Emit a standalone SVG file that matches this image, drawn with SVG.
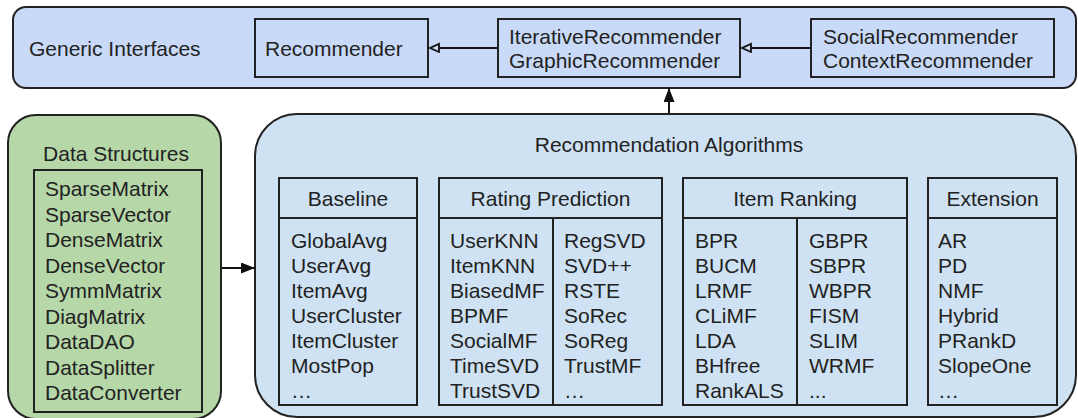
<svg xmlns="http://www.w3.org/2000/svg" width="1078" height="418" viewBox="0 0 1078 418">
  <style>
    text { font-family: "Liberation Sans", Arial, sans-serif; font-size: 21px; fill: #222; }
    .mid { text-anchor: middle; }
    .box { fill: none; stroke: #222; stroke-width: 2; }
    .conn { stroke: #111; stroke-width: 2; fill: none; }
  </style>
  <defs>
    <marker id="hollow" markerUnits="userSpaceOnUse" markerWidth="14" markerHeight="12" refX="10" refY="5" orient="auto">
      <path d="M1,1 L10,5 L1,9 z" fill="#c9daf8" stroke="#111" stroke-width="1.8"/>
    </marker>
    <marker id="solid" markerUnits="userSpaceOnUse" markerWidth="16" markerHeight="12" refX="14" refY="5.5" orient="auto">
      <path d="M0,0 L14,5.5 L0,11 z" fill="#111"/>
    </marker>
  </defs>

  <rect width="1078" height="418" fill="#ffffff"/>

  <g id="generic-interfaces">
    <rect x="13" y="7" width="1063" height="81" rx="13" ry="13" fill="#c9daf8" stroke="#222" stroke-width="2"/>
    <text x="29" y="56">Generic Interfaces</text>
  </g>

  <g id="recommender">
    <rect class="box" x="255" y="19" width="173" height="58"/>
    <text x="265" y="56">Recommender</text>
  </g>

  <g id="iterative">
    <rect class="box" x="498" y="19" width="242" height="58"/>
    <text x="509" y="44">IterativeRecommender</text>
    <text x="509" y="68">GraphicRecommender</text>
  </g>

  <g id="social">
    <rect class="box" x="811" y="19" width="243" height="58"/>
    <text x="823" y="44">SocialRecommender</text>
    <text x="823" y="68">ContextRecommender</text>
  </g>

  <g id="data-structures">
    <rect x="8" y="115" width="213" height="304" rx="28" ry="28" fill="#b6d7a8" stroke="#222" stroke-width="2"/>
    <text class="mid" x="116" y="161">Data Structures</text>
    <rect class="box" x="34" y="170" width="168" height="242"/>
    <text x="45" y="196">SparseMatrix</text>
    <text x="45" y="221.5">SparseVector</text>
    <text x="45" y="247">DenseMatrix</text>
    <text x="45" y="272.5">DenseVector</text>
    <text x="45" y="298">SymmMatrix</text>
    <text x="45" y="323.5">DiagMatrix</text>
    <text x="45" y="349">DataDAO</text>
    <text x="45" y="374.5">DataSplitter</text>
    <text x="45" y="400">DataConverter</text>
  </g>

  <g id="recommendation-algorithms">
    <rect x="255" y="114" width="821" height="303" rx="42" ry="42" fill="#cfe2f3" stroke="#222" stroke-width="2"/>
    <text class="mid" x="669" y="152">Recommendation Algorithms</text>
  </g>

  <g id="baseline">
    <rect class="box" x="279" y="178" width="138" height="227"/>
    <line class="box" x1="279" y1="218" x2="417" y2="218"/>
    <text class="mid" x="348" y="206">Baseline</text>
    <text x="291" y="248">GlobalAvg</text>
    <text x="291" y="273">UserAvg</text>
    <text x="291" y="298">ItemAvg</text>
    <text x="291" y="323">UserCluster</text>
    <text x="291" y="348">ItemCluster</text>
    <text x="291" y="373">MostPop</text>
    <text x="291" y="398">…</text>
  </g>

  <g id="rating-prediction">
    <rect class="box" x="439" y="178" width="223" height="227"/>
    <line class="box" x1="439" y1="218" x2="662" y2="218"/>
    <line class="box" x1="553" y1="218" x2="553" y2="405"/>
    <text class="mid" x="550.5" y="206">Rating Prediction</text>
    <text x="450" y="248">UserKNN</text>
    <text x="450" y="273">ItemKNN</text>
    <text x="450" y="298">BiasedMF</text>
    <text x="450" y="323">BPMF</text>
    <text x="450" y="348">SocialMF</text>
    <text x="450" y="373">TimeSVD</text>
    <text x="450" y="398">TrustSVD</text>
    <text x="564" y="248">RegSVD</text>
    <text x="564" y="273">SVD++</text>
    <text x="564" y="298">RSTE</text>
    <text x="564" y="323">SoRec</text>
    <text x="564" y="348">SoReg</text>
    <text x="564" y="373">TrustMF</text>
    <text x="564" y="398">…</text>
  </g>

  <g id="item-ranking">
    <rect class="box" x="683" y="178" width="224" height="227"/>
    <line class="box" x1="683" y1="218" x2="907" y2="218"/>
    <line class="box" x1="797" y1="218" x2="797" y2="405"/>
    <text class="mid" x="795" y="206">Item Ranking</text>
    <text x="695" y="248">BPR</text>
    <text x="695" y="273">BUCM</text>
    <text x="695" y="298">LRMF</text>
    <text x="695" y="323">CLiMF</text>
    <text x="695" y="348">LDA</text>
    <text x="695" y="373">BHfree</text>
    <text x="695" y="398">RankALS</text>
    <text x="809" y="248">GBPR</text>
    <text x="809" y="273">SBPR</text>
    <text x="809" y="298">WBPR</text>
    <text x="809" y="323">FISM</text>
    <text x="809" y="348">SLIM</text>
    <text x="809" y="373">WRMF</text>
    <text x="809" y="398">...</text>
  </g>

  <g id="extension">
    <rect class="box" x="928" y="178" width="129" height="227"/>
    <line class="box" x1="928" y1="218" x2="1057" y2="218"/>
    <text class="mid" x="992.5" y="206">Extension</text>
    <text x="938" y="248">AR</text>
    <text x="938" y="273">PD</text>
    <text x="938" y="298">NMF</text>
    <text x="938" y="323">Hybrid</text>
    <text x="938" y="348">PRankD</text>
    <text x="938" y="373">SlopeOne</text>
    <text x="938" y="398">…</text>
  </g>

  <g id="connectors">
    <line class="conn" x1="497" y1="48" x2="430" y2="48" marker-end="url(#hollow)"/>
    <line class="conn" x1="810" y1="48" x2="742" y2="48" marker-end="url(#hollow)"/>
    <line class="conn" x1="669" y1="113" x2="669" y2="88" marker-end="url(#solid)"/>
    <line class="conn" x1="222" y1="268" x2="255" y2="268" marker-end="url(#solid)"/>
  </g>
</svg>
